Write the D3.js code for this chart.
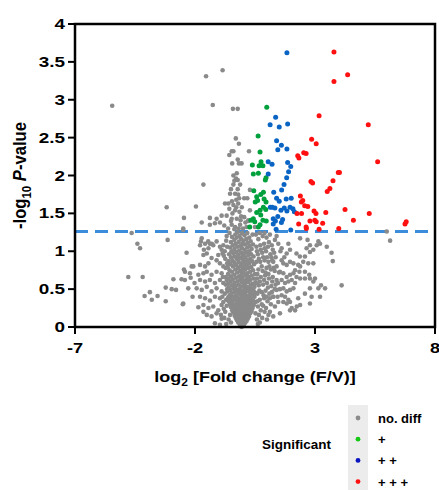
<!DOCTYPE html>
<html lang="en">
<head>
<meta charset="UTF-8">
<title>Volcano plot</title>
<script src="https://cdn.jsdelivr.net/npm/d3@7"></script>
<style>
  body { margin: 0; background: #fff; }
  svg text { font-family: "Liberation Sans", Arial, sans-serif; font-weight: bold; fill: #000; }
</style>
</head>
<body>
<svg id="chart" width="439" height="490"></svg>
<script>
// [log2 fold change, -log10 p]
const grayCore = [
  [-0.06,0.00],[-0.02,0.01],[0.02,0.02],[-0.10,0.02],[-0.14,0.04],[0.05,0.04],[-0.04,0.05],[0.10,0.06],[-0.20,0.06],
  [-0.08,0.07],[0.01,0.08],[0.15,0.08],[-0.25,0.09],[-0.15,0.10],[0.07,0.10],[0.20,0.11],[-0.02,0.11],
  [-0.30,0.12],[-0.20,0.13],[-0.09,0.13],[0.12,0.13],[0.25,0.14],[0.02,0.15],[-0.35,0.15],[-0.14,0.16],[0.18,0.16],
  [-0.26,0.17],[-0.04,0.17],[0.08,0.18],[0.30,0.18],[-0.40,0.19],[-0.18,0.19],[0.22,0.20],[-0.30,0.21],[-0.08,0.20],
  [0.03,0.21],[0.14,0.21],[0.36,0.21],[-0.45,0.22],
  [-0.22,0.23],[-0.12,0.23],[0.26,0.23],[0.08,0.24],[-0.36,0.24],[-0.02,0.25],[0.18,0.25],[0.40,0.25],[-0.50,0.26],
  [-0.28,0.26],[0.32,0.27],[-0.16,0.27],[-0.06,0.28],[0.12,0.28],[0.02,0.29],[-0.42,0.29],[0.24,0.29],[0.45,0.29],
  [-0.55,0.30],[-0.32,0.30],[-0.20,0.31],[0.36,0.31],
  [-0.10,0.32],[0.06,0.32],[0.18,0.33],[-0.46,0.33],[0.52,0.33],[-0.60,0.34],[-0.26,0.34],[0.28,0.34],[-0.02,0.35],
  [0.42,0.35],[-0.36,0.36],[-0.14,0.36],[0.12,0.37],[-0.52,0.37],[0.22,0.37],[0.34,0.38],[-0.62,0.39],[-0.22,0.39],
  [-0.06,0.39],[0.04,0.40],[0.48,0.40],[-0.42,0.40],
  [-0.30,0.41],[0.16,0.41],[0.26,0.42],[-0.56,0.42],[-0.12,0.43],[0.38,0.43],[0.00,0.44],[-0.48,0.44],[-0.20,0.45],
  [0.10,0.45],[0.52,0.45],[-0.36,0.46],[0.30,0.46],[-0.64,0.47],[-0.04,0.47],[0.20,0.48],[0.44,0.48],[-0.26,0.49],
  [-0.52,0.49],[0.06,0.50],[-0.14,0.50],[0.36,0.50],
  [-0.40,0.51],[0.24,0.52],[-0.60,0.52],[-0.08,0.53],[0.14,0.53],[0.48,0.53],[-0.30,0.54],[0.02,0.55],[-0.46,0.55],
  [0.32,0.55],[-0.18,0.56],[0.40,0.57],[-0.62,0.57],[0.10,0.58],[-0.36,0.58],[-0.04,0.59],[0.22,0.59],[0.52,0.59],
  [-0.24,0.60],[-0.52,0.60],
  [0.06,0.61],[-0.12,0.62],[0.30,0.62],[-0.42,0.63],[0.16,0.63],[-0.60,0.64],[0.44,0.64],[-0.02,0.65],[-0.28,0.65],
  [0.24,0.66],[-0.50,0.67],[-0.16,0.67],[0.10,0.68],[0.36,0.68],[-0.36,0.69],[-0.06,0.70],[0.50,0.70],[-0.62,0.70],
  [0.18,0.71],[-0.24,0.72],[0.02,0.72],[-0.46,0.73],[0.30,0.73],[-0.12,0.74],[0.42,0.75],[-0.56,0.75],[0.10,0.76],
  [-0.32,0.76],[-0.02,0.77],[0.22,0.78],[-0.20,0.78],[-0.64,0.79],[0.34,0.79],[-0.42,0.80],[0.06,0.80],
  [-0.10,0.81],[0.16,0.82],[-0.28,0.82],[0.46,0.83],[-0.52,0.83],[0.26,0.84],[-0.04,0.84],[-0.36,0.85],[0.08,0.86],
  [-0.18,0.86],[0.38,0.87],[-0.60,0.87],[-0.44,0.88],[0.18,0.88],[0.00,0.89],[-0.26,0.90],[0.30,0.90],
  [-0.12,0.91],[-0.50,0.92],[0.10,0.92],[0.44,0.93],[-0.34,0.93],[-0.02,0.94],[0.22,0.95],[-0.20,0.95],[-0.58,0.96],
  [0.34,0.96],[-0.40,0.97],[0.04,0.97],[-0.08,0.98],[0.14,0.99],[-0.28,0.99],[0.26,1.00],[-0.48,1.00],
  [-0.16,1.01],[0.06,1.02],[-0.36,1.03],[0.36,1.03],[-0.04,1.04],[0.18,1.05],[-0.54,1.05],[-0.24,1.06],[0.28,1.07],
  [-0.10,1.07],[-0.42,1.08],[0.08,1.09],[0.42,1.09],[-0.30,1.10],[-0.02,1.10],
  [0.20,1.11],[-0.18,1.12],[-0.50,1.12],[0.32,1.13],[0.02,1.14],[-0.36,1.15],[-0.08,1.16],[0.14,1.16],[-0.26,1.18],
  [0.26,1.18],[-0.46,1.19],[-0.14,1.20],[0.06,1.21],[-0.32,1.22],[0.40,1.22],[-0.04,1.24],[0.18,1.24],[-0.22,1.25],
  [-0.56,1.24]
];
const grayRight = [
  [0.58,0.10],[0.66,0.16],[0.74,0.22],[0.62,0.27],[0.84,0.28],[0.96,0.25],[0.70,0.36],[0.88,0.38],[1.02,0.34],
  [1.16,0.30],[0.60,0.44],[0.78,0.46],[0.94,0.48],[1.10,0.44],[1.26,0.40],[0.66,0.55],[0.84,0.56],[1.00,0.58],
  [1.18,0.54],[1.32,0.50],[0.58,0.64],[0.74,0.66],[0.92,0.68],[1.08,0.64],[1.24,0.66],[1.40,0.62],[0.64,0.76],
  [0.82,0.74],[0.98,0.78],[1.16,0.76],[1.32,0.74],[1.50,0.72],[0.56,0.86],[0.72,0.86],[0.90,0.88],[1.06,0.86],
  [1.22,0.88],[0.62,0.96],[0.80,0.98],[0.96,1.00],[1.14,0.96],[1.30,0.98],[0.56,1.06],[0.72,1.08],[0.88,1.10],
  [1.04,1.06],[1.20,1.08],[0.64,1.16],[0.82,1.20],[0.98,1.18],[1.12,1.22],[0.54,1.22],
  [0.52,0.18],[0.60,0.34],[0.78,0.30],[0.90,0.20],[1.06,0.16],[0.68,0.48],[0.86,0.42],[1.04,0.52],[1.20,0.46],
  [0.54,0.58],[0.70,0.60],[0.88,0.62],[1.06,0.70],[1.22,0.60],[0.60,0.70],[0.78,0.80],[0.94,0.72],[1.10,0.80],
  [1.28,0.78],[0.66,0.90],[0.84,0.92],[1.00,0.92],[1.18,0.92],[1.36,0.92],[0.58,1.00],[0.74,1.02],[0.90,1.04],
  [1.08,1.12],[1.24,1.02],[0.70,1.24],[0.90,1.24],[1.40,1.20],[1.56,1.00],[1.72,0.92],[1.46,0.58],[1.36,0.56],
  [1.54,0.50],[1.44,0.40],[1.12,0.38],[0.98,0.40],[0.80,0.12],[0.70,0.06],[1.00,0.10],[0.62,0.04],
  [1.26,0.86],[1.40,0.80],[1.61,0.88],[1.68,0.84],[1.82,0.82],[1.96,0.86],[2.10,0.84],[1.54,0.73],[1.68,0.71],
  [1.82,0.66],[1.96,0.69],[2.10,0.71],[1.61,0.62],[1.75,0.58],[1.89,0.60],[2.03,0.62],[2.17,0.58],[1.68,0.51],
  [1.82,0.47],[1.96,0.49],[2.10,0.51],[1.61,0.42],[1.75,0.40],[1.89,0.36],[1.40,0.49],[1.26,0.40],[1.47,0.33],
  [1.33,0.27],[1.12,0.20],[1.26,0.14],[1.54,0.18],[1.96,0.33],[2.03,0.25],[1.82,0.97],[1.61,1.04],[1.47,1.10],
  [1.33,1.15],[1.89,1.10],[1.96,1.02],[2.23,0.97],[2.37,0.93],[2.17,0.75],[2.23,0.66],
  [2.38,1.17],[2.69,1.15],[2.79,1.08],[2.65,1.04],[3.14,1.13],[3.21,1.10],[3.07,1.08],[3.49,1.06],[3.69,0.98],
  [3.74,0.87],[2.79,0.99],[2.93,1.02],[2.58,0.93],[2.51,0.86],[2.72,0.84],[2.93,0.84],[2.30,0.82],[2.38,0.80],
  [2.35,0.73],[2.58,0.73],[2.76,0.69],[2.38,0.64],[2.58,0.64],[2.79,0.64],[2.93,0.60],[3.25,0.55],[4.11,0.55],
  [2.79,0.51],[3.14,0.51],[2.58,0.44],[2.86,0.40],[3.21,0.40],[2.30,0.38],[2.38,0.29],[2.24,0.27],[1.96,0.22],
  [2.17,0.22],[1.68,0.33],[1.82,0.31],[3.42,0.51],[3.00,0.64],[2.79,0.31],[5.99,1.26],[6.13,1.14]
];
const grayLeft = [
  [-2.35,0.98],[-2.42,0.62],[-2.49,0.31],[-1.72,1.17],[-1.79,1.08],[-1.58,1.10],[-1.38,1.10],[-1.24,1.08],
  [-1.44,1.04],[-1.65,0.95],[-1.51,0.97],[-0.96,1.06],[-0.89,1.02],[-0.82,1.08],[-1.03,0.95],[-0.85,0.97],
  [-1.31,0.91],[-1.10,0.88],[-1.79,0.82],[-1.58,0.80],[-1.44,0.84],[-0.96,0.84],[-0.82,0.80],[-2.07,0.80],
  [-2.42,0.73],[-2.21,0.71],[-1.65,0.71],[-1.51,0.73],[-1.31,0.69],[-1.10,0.73],[-0.89,0.71],[-1.79,0.62],
  [-1.58,0.60],[-1.38,0.62],[-1.17,0.58],[-0.96,0.62],[-0.82,0.58],[-1.93,0.51],[-1.72,0.49],[-1.51,0.53],
  [-1.31,0.47],[-1.10,0.51],[-0.89,0.47],[-1.79,0.40],[-1.58,0.38],[-1.38,0.35],[-1.17,0.40],[-0.96,0.38],
  [-0.82,0.33],[-1.65,0.29],[-1.44,0.25],[-1.24,0.27],[-1.03,0.22],[-0.89,0.29],[-1.51,0.16],[-1.31,0.14],
  [-1.10,0.18],[-0.89,0.11],[-1.17,0.05],[-0.96,0.03],
  [-0.74,0.20],[-0.76,0.44],[-0.72,0.66],[-0.74,0.90],[-0.70,1.14],[-0.78,0.12],[-0.72,0.56],[-0.70,0.36],
  [-0.76,1.00],[-0.72,0.78],[-2.46,0.76],[-2.18,0.65],[-2.14,0.80],[-1.86,0.69],[-2.28,0.51],[-2.56,0.63],
  [-1.75,1.13],[-1.45,1.13],[-1.30,1.10],[-1.63,1.02],[-1.10,1.13],[-2.02,0.58],[-1.86,0.26],[-1.65,0.20],
  [-2.10,0.40],
  [-0.68,0.28],[-0.66,0.50],[-0.68,0.62],[-0.66,0.84],[-0.66,1.06],[-0.68,1.20],[-0.80,0.94],[-0.84,0.66],
  [-0.86,0.40],[-0.80,0.24],[-0.92,0.16],[-0.70,0.04],[-0.60,0.10],[-0.54,0.16],[-0.50,0.06],
  [-4.64,1.24],[-4.40,1.10],[-4.29,1.04],[-4.78,0.66],[-4.18,0.66],[-4.10,0.41],[-3.88,0.46],[-3.80,0.36],
  [-3.56,0.41],[-3.22,0.52],[-3.22,0.34],[-3.14,1.15],[-2.97,0.50],[-2.90,0.63],[-2.79,0.49],[-2.51,0.30],
  [-2.49,1.28]
];
const grayUpper = [
  [-5.45,2.92],[-1.54,3.31],[-1.26,2.93],[-0.85,3.39],[-0.42,2.88],[-0.22,2.88],[-0.30,2.49],[-0.17,2.42],
  [-0.47,2.32],[-0.40,2.32],[-0.57,2.27],[-0.22,2.21],[-0.17,2.16],[-0.45,2.16],[0.25,2.32],[-0.26,2.03],
  [-0.29,1.96],[-0.36,1.93],[-0.22,1.94],[-0.40,1.88],[-0.12,1.88],[-1.65,1.88],[-0.50,1.82],[-0.22,1.82],
  [-0.54,1.76],[-0.33,1.76],[-0.20,1.75],[-0.75,1.63],[-0.61,1.63],[-0.40,1.61],[-0.20,1.63],[-1.96,1.59],
  [-3.18,1.58],[-0.57,1.56],[-0.33,1.54],[-0.15,1.52],[-2.46,1.44],[-1.38,1.44],[-1.10,1.43],[-0.89,1.47],
  [-0.68,1.47],[-0.47,1.43],[-0.26,1.43],[-0.10,1.41],[-1.72,1.38],[-1.38,1.35],[-1.17,1.37],[-0.96,1.38],
  [-0.47,1.35],[-0.33,1.32],[-0.12,1.35],[0.15,1.32],[-2.49,1.30],[0.05,1.45],[0.10,1.38],[0.22,1.40],
  [-0.05,1.58],[0.05,1.70],[-0.44,1.50],[-0.28,1.68],[-0.08,1.46],[-0.50,1.40],[-0.62,1.30],[-0.36,1.29],
  [-0.18,1.30],[0.00,1.30],[-0.78,1.34],[-0.28,1.58],[-0.46,1.66],[-0.16,1.70],[-0.40,2.00],[0.29,1.81],
  [0.18,1.70],[0.29,1.54],[0.22,1.41],[0.50,1.32],[-0.06,2.16]
];
const sigOne = [
  [0.99,2.90],[0.63,2.52],[0.71,2.31],[0.39,2.14],[0.67,2.13],[0.83,2.13],[0.75,2.18],[0.43,2.02],[0.64,2.03],
  [0.96,1.97],[0.93,1.94],[0.45,1.80],[0.85,1.78],[0.74,1.75],[0.57,1.72],[0.61,1.67],[0.51,1.65],[0.88,1.69],
  [0.96,1.65],[0.85,1.58],[0.95,1.55],[0.71,1.54],[0.57,1.51],[0.74,1.48],[0.43,1.43],[0.33,1.41],[0.49,1.39],
  [0.83,1.41],[0.97,1.40],[0.28,1.32],[0.64,1.32],[0.71,1.35]
];
const sigTwo = [
  [1.83,3.62],[1.36,2.77],[1.13,2.67],[1.51,2.64],[1.86,2.68],[1.40,2.46],[1.60,2.40],[1.45,2.34],[1.83,2.35],
  [1.05,2.18],[1.21,2.15],[1.86,2.17],[1.99,2.12],[1.90,2.05],[1.05,2.02],[1.82,1.97],[1.71,1.88],[1.28,1.78],
  [1.61,1.81],[1.40,1.70],[1.51,1.66],[1.80,1.69],[2.01,1.70],[1.14,1.58],[1.22,1.58],[1.33,1.57],[1.58,1.54],
  [1.72,1.57],[1.83,1.53],[1.96,1.58],[2.08,1.56],[2.14,1.52],[1.26,1.43],[1.35,1.40],[1.45,1.46],[1.65,1.42],
  [1.60,1.38],[1.26,1.36],[1.99,1.28],[1.38,1.29]
];
const sigThree = [
  [3.79,3.63],[4.36,3.33],[3.79,3.24],[3.17,2.79],[5.22,2.67],[2.86,2.48],[3.05,2.42],[2.28,2.26],[2.33,2.23],
  [2.53,2.30],[2.63,2.29],[5.61,2.18],[3.97,2.04],[4.02,2.04],[2.83,1.92],[2.90,1.90],[3.75,1.93],[3.62,1.83],
  [3.51,1.79],[2.39,1.73],[2.43,1.65],[2.49,1.67],[2.57,1.60],[2.70,1.59],[2.96,1.53],[3.04,1.50],[3.45,1.51],
  [2.44,1.50],[2.25,1.50],[2.32,1.36],[2.64,1.30],[2.99,1.41],[3.05,1.39],[3.17,1.29],[4.25,1.55],[5.26,1.50],
  [4.60,1.41],[6.75,1.36],[6.80,1.39],[3.99,1.30],[2.79,1.40],[3.32,1.37],[2.63,1.32]
];
const xTicks = [-7, -2, 3, 8];
const yTicks = [0, 0.5, 1, 1.5, 2, 2.5, 3, 3.5, 4];
const threshold = 1.26;
const legendLabels = ["no. diff", "+", "+ +", "+ + +"];

const plotColors = ["#8a8a8a", "#00a03c", "#0a64c4", "#ff1010"];
const legendColors = ["#8c8c8c", "#14c814", "#0a14c0", "#ff1010"];

const svg = d3.select("#chart");
const x = d3.scaleLinear().domain([-7, 8]).range([75, 435]);
const y = d3.scaleLinear().domain([0, 4]).range([327, 24]);

// threshold
svg.append("line")
  .attr("x1", x(-7)).attr("x2", x(8))
  .attr("y1", y(threshold)).attr("y2", y(threshold))
  .attr("stroke", "#3b8ddb").attr("stroke-width", 3)
  .attr("stroke-dasharray", "13,7");

// points
const groups = [
  grayCore.concat(grayRight, grayLeft, grayUpper),
  sigOne, sigTwo, sigThree
];
groups.forEach((pts, i) => {
  svg.append("g").selectAll("circle")
    .data(pts).enter().append("circle")
    .attr("cx", d => x(d[0]))
    .attr("cy", d => y(d[1]))
    .attr("r", i === 0 ? 2.3 : 2.5)
    .attr("fill", plotColors[i]);
});

// frame
svg.append("rect")
  .attr("x", x(-7)).attr("y", y(4))
  .attr("width", x(8) - x(-7)).attr("height", y(0) - y(4))
  .attr("fill", "none").attr("stroke", "#000").attr("stroke-width", 2.5);

// ticks
svg.append("g").selectAll("line").data(yTicks).enter().append("line")
  .attr("x1", x(-7) - 7).attr("x2", x(-7))
  .attr("y1", d => y(d)).attr("y2", d => y(d))
  .attr("stroke", "#000").attr("stroke-width", 2);
svg.append("g").selectAll("line").data(xTicks).enter().append("line")
  .attr("x1", d => x(d)).attr("x2", d => x(d))
  .attr("y1", y(0)).attr("y2", y(0) + 7)
  .attr("stroke", "#000").attr("stroke-width", 2);

// tick labels (source font is wide, stretch horizontally)
svg.append("g").selectAll("text").data(yTicks).enter().append("text")
  .attr("transform", d => `translate(${x(-7) - 10},${y(d) + 5}) scale(1.35,1)`)
  .attr("text-anchor", "end")
  .attr("font-size", 14)
  .text(d => String(d));
svg.append("g").selectAll("text").data(xTicks).enter().append("text")
  .attr("transform", d => `translate(${x(d)},${y(0) + 26}) scale(1.3,1)`)
  .attr("text-anchor", "middle")
  .attr("font-size", 14)
  .text(d => String(d));

// axis titles
const xt = svg.append("text")
  .attr("transform", `translate(${(x(-7) + x(8)) / 2},382) scale(1.2,1)`)
  .attr("text-anchor", "middle").attr("font-size", 15);
xt.append("tspan").text("log");
xt.append("tspan").attr("font-size", 10).attr("dy", 4).text("2");
xt.append("tspan").attr("dy", -4).text(" [Fold change (F/V)]");

const yt = svg.append("text")
  .attr("transform", `translate(26,${(y(0) + y(4)) / 2}) rotate(-90) scale(1.04,1.2)`)
  .attr("text-anchor", "middle").attr("font-size", 16);
yt.append("tspan").text("-log");
yt.append("tspan").attr("font-size", 11).attr("dy", 4).text("10");
yt.append("tspan").attr("dy", -4).text(" ");
yt.append("tspan").attr("font-style", "italic").text("P");
yt.append("tspan").text("-value");

// legend
const legend = svg.append("g");
legend.append("rect")
  .attr("x", 348).attr("y", 405).attr("width", 20).attr("height", 85)
  .attr("fill", "#ececec");
legendLabels.forEach((lab, i) => {
  const cy = 418 + i * 21.2;
  legend.append("circle").attr("cx", 358).attr("cy", cy).attr("r", 2.4)
    .attr("fill", legendColors[i]);
  legend.append("text").attr("x", 378).attr("y", cy + 5)
    .attr("font-size", 13).text(lab);
});
legend.append("text").attr("x", 262).attr("y", 449)
  .attr("font-size", 13.5).text("Significant");
</script>
</body>
</html>
